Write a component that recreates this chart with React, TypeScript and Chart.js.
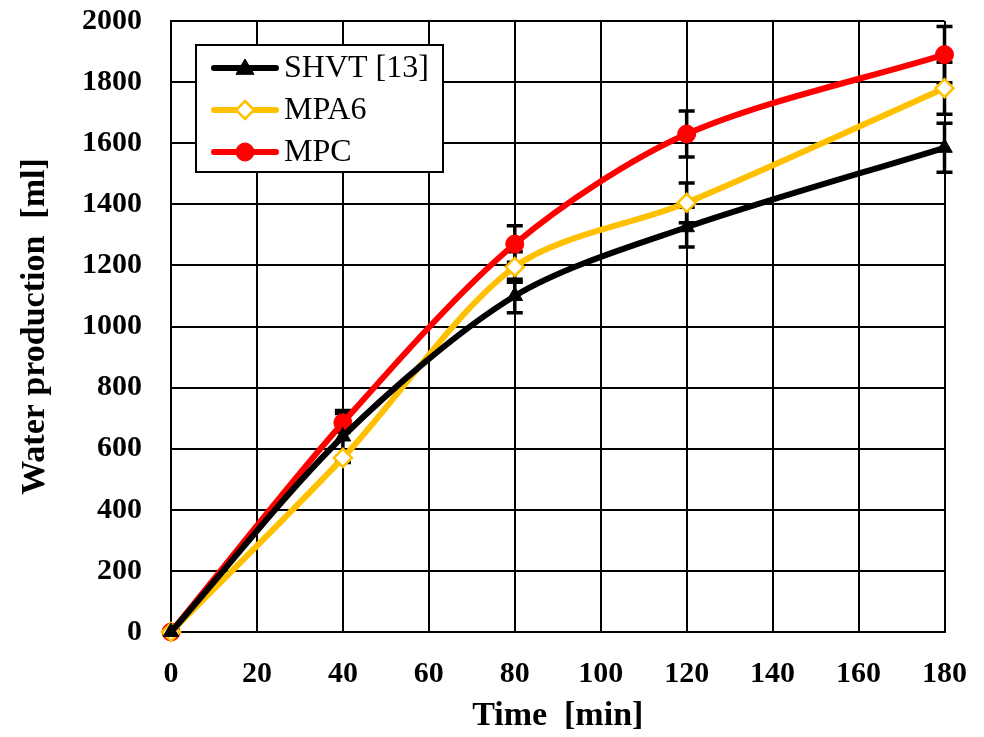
import React, { useEffect, useRef } from "react";
import { Chart, registerables } from "chart.js";

Chart.register(...registerables);

const times = [0, 40, 80, 120, 180];
const shvt = [0, 640, 1100, 1325, 1585];
const mpa6 = [0, 570, 1195, 1405, 1780];
const mpc = [0, 685, 1270, 1630, 1890];
const shvtErr = [0, 85, 55, 65, 80];
const mpa6Err = [0, 0, 50, 65, 85];
const mpcErr = [0, 30, 60, 75, 92];
const seriesNames = ["SHVT [13]", "MPA6", "MPC"];
const xTicks = [0, 20, 40, 60, 80, 100, 120, 140, 160, 180];

const FONT = "'Liberation Serif', 'Times New Roman', serif";
const SHIFT = 26;
const EXTRA_W = 7;

const errorBarPlugin = {
  id: "errorBars",
  beforeDatasetsDraw(chart: any) {
    const ctx = chart.ctx;
    const xs = chart.scales.x;
    const ys = chart.scales.y;
    const errs = [shvtErr, mpa6Err, mpcErr];
    ctx.save();
    ctx.strokeStyle = "#000";
    ctx.lineWidth = 3.5;
    chart.data.datasets.forEach((ds: any, i: number) => {
      ds.data.forEach((pt: any, j: number) => {
        const e = errs[i][j];
        if (!e) return;
        const px = xs.getPixelForValue(pt.x);
        const top = ys.getPixelForValue(pt.y + e);
        const bot = ys.getPixelForValue(pt.y - e);
        ctx.beginPath();
        ctx.moveTo(px, top);
        ctx.lineTo(px, bot);
        ctx.moveTo(px - 8, top);
        ctx.lineTo(px + 8, top);
        ctx.moveTo(px - 8, bot);
        ctx.lineTo(px + 8, bot);
        ctx.stroke();
      });
    });
    ctx.restore();
  },
};

const legendPlugin = {
  id: "boxLegend",
  afterDraw(chart: any) {
    const ctx = chart.ctx;
    const x0 = 196, y0 = 45 + SHIFT, w = 247, h = 127;
    ctx.save();
    ctx.fillStyle = "#fff";
    ctx.fillRect(x0, y0, w, h);
    ctx.strokeStyle = "#000";
    ctx.lineWidth = 2;
    ctx.strokeRect(x0, y0, w, h);
    chart.data.datasets.forEach((ds: any, i: number) => {
      const cy = y0 + 23 + i * 42;
      ctx.strokeStyle = ds.borderColor;
      ctx.lineWidth = 6;
      ctx.lineCap = "round";
      ctx.beginPath();
      ctx.moveTo(214, cy);
      ctx.lineTo(276, cy);
      ctx.stroke();
      ctx.lineCap = "butt";
      const style = ds.pointStyle;
      const r = ds.pointRadius;
      ctx.fillStyle = ds.pointBackgroundColor;
      ctx.strokeStyle = ds.pointBorderColor;
      ctx.lineWidth = ds.pointBorderWidth;
      ctx.beginPath();
      const cx = 245;
      if (style === "triangle") {
        ctx.moveTo(cx, cy - r);
        ctx.lineTo(cx + r, cy + r * 0.7);
        ctx.lineTo(cx - r, cy + r * 0.7);
        ctx.closePath();
      } else if (style === "rectRot") {
        ctx.moveTo(cx, cy - r);
        ctx.lineTo(cx + r, cy);
        ctx.lineTo(cx, cy + r);
        ctx.lineTo(cx - r, cy);
        ctx.closePath();
      } else {
        ctx.arc(cx, cy, r, 0, Math.PI * 2);
      }
      ctx.fill();
      ctx.stroke();
      ctx.fillStyle = "#000";
      ctx.font = `32px ${FONT}`;
      ctx.textBaseline = "middle";
      ctx.textAlign = "left";
      ctx.fillText(seriesNames[i], 284, cy + 1);
    });
    ctx.restore();
  },
};

export default function App() {
  const ref = useRef<HTMLCanvasElement>(null);
  useEffect(() => {
    if (!ref.current) return;
    const mk = (vals: number[]) => times.map((t, i) => ({ x: t, y: vals[i] }));
    const chart = new Chart(ref.current, {
      type: "line",
      data: {
        datasets: [
          {
            label: seriesNames[0],
            data: mk(shvt),
            borderColor: "#000000",
            borderWidth: 6,
            pointStyle: "triangle",
            pointRadius: 9,
            pointBackgroundColor: "#000000",
            pointBorderColor: "#000000",
            pointBorderWidth: 1,
            tension: 0.3,
            clip: false,
          },
          {
            label: seriesNames[1],
            data: mk(mpa6),
            borderColor: "#FFC000",
            borderWidth: 6,
            pointStyle: "rectRot",
            pointRadius: 9,
            pointBackgroundColor: "#ffffff",
            pointBorderColor: "#FFC000",
            pointBorderWidth: 2.5,
            tension: 0.3,
            clip: false,
          },
          {
            label: seriesNames[2],
            data: mk(mpc),
            borderColor: "#FF0000",
            borderWidth: 6,
            pointStyle: "circle",
            pointRadius: 9,
            pointBackgroundColor: "#FF0000",
            pointBorderColor: "#FF0000",
            pointBorderWidth: 1,
            tension: 0.3,
            clip: false,
          },
        ],
      },
      options: {
        animation: false,
        responsive: false,
        layout: { padding: { top: 6, right: 32, left: 0, bottom: 0 } },
        plugins: { legend: { display: false }, tooltip: { enabled: false } },
        scales: {
          x: {
            type: "linear",
            min: 0,
            max: 180,
            afterBuildTicks: (axis: any) => {
              axis.ticks = xTicks.map((v) => ({ value: v }));
            },
            afterFit: (axis: any) => {
              axis.height = 105;
            },
            grid: { color: "#000", lineWidth: 2, tickLength: 0, drawTicks: false },
            border: { color: "#000", width: 2 },
            ticks: {
              color: "#000",
              font: { family: FONT, size: 30, weight: "bold" },
              padding: 24,
              maxRotation: 0,
            },
            title: {
              display: true,
              text: "Time  [min]",
              color: "#000",
              font: { family: FONT, size: 34, weight: "bold" },
              padding: { top: 3, bottom: 0 },
            },
          },
          y: {
            min: 0,
            max: 2000,
            afterFit: (axis: any) => {
              axis.width = 171;
            },
            grid: { color: "#000", lineWidth: 2, drawTicks: false },
            border: { color: "#000", width: 2 },
            ticks: {
              stepSize: 200,
              color: "#000",
              font: { family: FONT, size: 30, weight: "bold" },
              padding: 29,
              callback: (v: any) => String(v),
            },
            title: {
              display: true,
              text: "Water production  [ml]",
              color: "#000",
              font: { family: FONT, size: 34, weight: "bold" },
              padding: { top: 15, bottom: 0 },
            },
          },
        },
      },
      plugins: [errorBarPlugin, legendPlugin],
    } as any);
    return () => chart.destroy();
  }, []);
  return (
    <div style={{ position: "absolute", left: 0, top: 0, width: 984, height: 737, overflow: "hidden", background: "#fff" }}>
      <canvas
        ref={ref}
        width={984 + EXTRA_W}
        height={737 + SHIFT}
        style={{ position: "absolute", left: 0, top: -SHIFT }}
      />
    </div>
  );
}
